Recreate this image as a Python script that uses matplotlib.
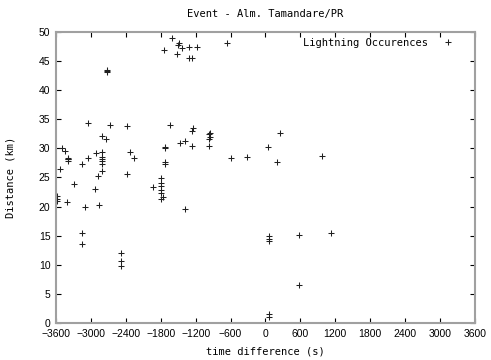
import matplotlib
matplotlib.use("Agg")
import matplotlib.pyplot as plt

# dados: diferenca de tempo (s) e distancia (km)
tempo = [
    -1607, -1481, -1510, -1435, -1320, -1177, -1750, -1516, -1320, -1258, -667,
    -2724, -2715, -2730,
    -3056, -2667, -2380, -1636, -1241, -1269, -2815, -2746, -954, -954, 248,
    -3502, -3450, -3394, -3394, -3394, -3400, -3526, -3148, -3056, -2918,
    -2815, -2815, -2815, -2815, -2815, -2815, -2884, -3291, -2925,
    -3589, -3589, -3589, -3406, -3096, -2856, -3148, -3148,
    -2323, -2260, -2380, -1727, -1727, -1727, -1727,
    -1801, -1801, -1801, -1801, -1801, -1928, -1756, -1801,
    -1463, -1383, -1262, -971, -971, -971, -1383,
    -2488, -2488, -2488,
    -588, -313, 46, 200, 965, 60, 60, 60, 580, 1120, 580, 60, 60,
]
distancia = [
    49.0, 48.1, 47.7, 47.3, 47.4, 47.4, 46.9, 46.2, 45.6, 45.6, 48.1,
    43.3, 43.4, 43.2,
    34.3, 34.1, 33.8, 34.0, 33.5, 33.0, 32.2, 31.7, 32.6, 32.0, 32.6,
    30.0, 29.6, 28.4, 28.1, 27.9, 28.2, 26.5, 27.3, 28.3, 29.2,
    29.3, 28.6, 28.2, 27.8, 27.4, 26.1, 25.3, 23.9, 23.0,
    21.8, 21.3, 21.0, 20.8, 20.0, 20.2, 15.4, 13.6,
    29.3, 28.3, 25.6, 30.3, 30.0, 27.7, 27.3,
    24.9, 24.0, 23.6, 22.9, 22.4, 23.3, 21.6, 21.3,
    30.9, 31.2, 30.4, 32.5, 31.6, 30.4, 19.6,
    12.0, 10.7, 9.8,
    28.3, 28.5, 30.3, 27.7, 28.7, 14.9, 14.5, 14.1, 15.1, 15.4, 6.6, 1.5, 1.1,
]
XTICKS = list(range(-3600, 3601, 600))
YTICKS = list(range(0, 51, 5))

MONO = "DejaVu Sans Mono"

fig = plt.figure(figsize=(4.91, 3.6), dpi=100)
ax = fig.add_axes([0.114, 0.1028, 0.8534, 0.8083])

ax.plot(tempo, distancia, linestyle="none", marker="+", color="#202020",
        markersize=5, markeredgewidth=0.75, label="Lightning Occurences")

ax.set_xlim(-3600, 3600)
ax.set_ylim(0, 50)
ax.set_xticks(XTICKS)
ax.set_yticks(YTICKS)
ax.tick_params(direction="in", top=True, right=True, length=3.5, width=0.8,
               labelsize=7.5, colors="black", pad=4)
for lbl in ax.get_xticklabels() + ax.get_yticklabels():
    lbl.set_family("Liberation Sans")
for s in ax.spines.values():
    s.set_color("#a0a0a0")
    s.set_linewidth(1.5)

ax.set_title("Event - Alm. Tamandare/PR", family=MONO, fontsize=7.5, pad=11)
ax.set_xlabel("time difference (s)", family=MONO, fontsize=7.5, labelpad=6)
ax.set_ylabel("Distance (km)", family=MONO, fontsize=7.5, labelpad=17)

ax.legend(loc="upper right", bbox_to_anchor=(0.952, 0.988), frameon=False,
          markerfirst=False, prop={"family": MONO, "size": 7.5},
          handlelength=1.0, borderaxespad=0, borderpad=0.2, handletextpad=1.4)

fig.savefig("out.png", dpi=100)
